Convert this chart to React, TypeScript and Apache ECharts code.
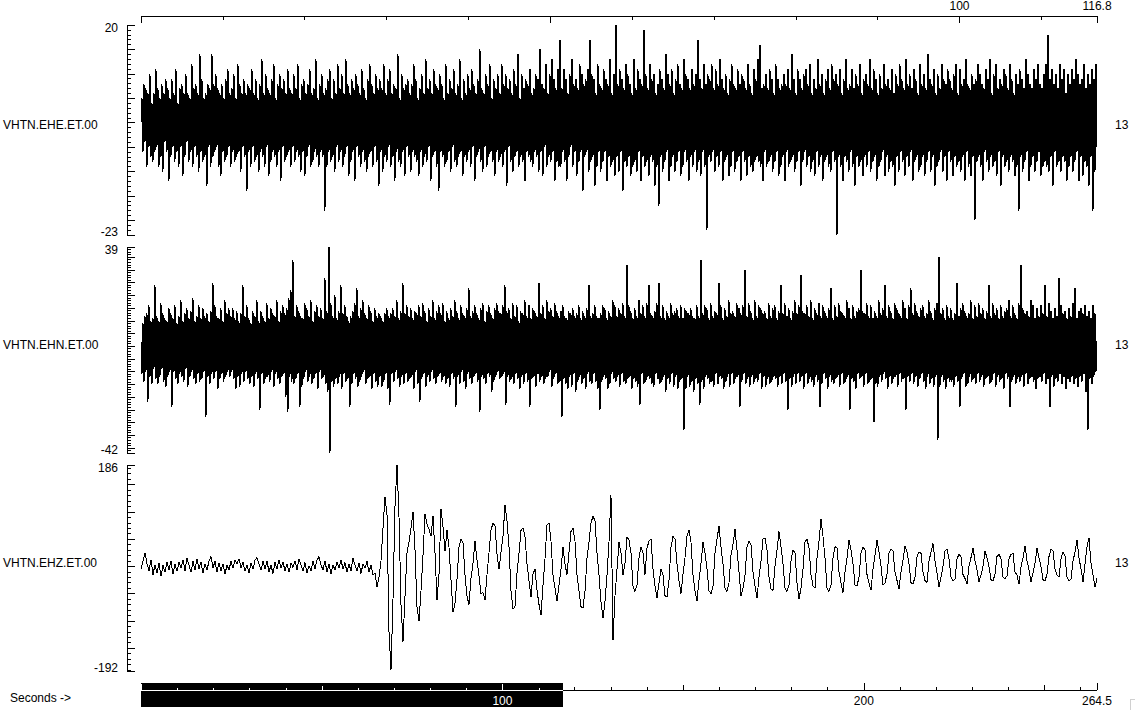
import React, { useEffect, useRef } from "react";
import * as echarts from "echarts";

const channels = ["VHTN.EHE.ET.00", "VHTN.EHN.ET.00", "VHTN.EHZ.ET.00"];
const rightLabels = ["13", "13", "13"];
const yMins = [-23, -42, -192];
const yMaxs = [20, 39, 186];
const yMinorSteps = [1, 1, 10];
const yMajorSteps = [5, 5, 50];

const windowStart = 0;
const windowEnd = 116.8;
const totalEnd = 264.5;
const tickStep = 10;
const topMajorTicks = [0, 50, 100, 116.8];
const topLabels = [100, 116.8];
const bottomMidTicks = [50, 150, 250];
const bottomMajorTicks = [0, 100, 200, 264.5];
const bottomLabels = [100, 200, 264.5];

// EHE, one value per screen column of the displayed window
const eheValues = [
  0, 5, -6, 8, -4, 7, -9, 6, -5, 10, -7, 4, -8, 6, -6, 11, -5, 7, -9, 5, -7, 8, -10, 6, -4, 9, -6, 7, -12, 5,
  -7, 9, -5, 6, -8, 11, -6, 4, -9, 7, -5, 8, -11, 6, -7, 10, -4, 6, -8, 5, -6, 12, -9, 7, -5, 8, -7, 6, -10, 14,
  -6, 9, -8, 5, -7, 6, -13, 8, -5, 7, -9, 14, -7, 8, -6, 10, -5, 7, -9, 6, -11, 8, -6, 5, -8, 9, -7, 11, -5,
  6, -9, 7, -6, 10, -8, 5, -7, 12, -6, 8, -10, 6, -5, 9, -7, 6, -14, 8, -6, 7, -9, 11, -5, 6, -8, 9, -7, 5, -10,
  8, -6, 13, -7, 6, -9, 10, -5, 7, -11, 6, -8, 9, -6, 12, -7, 5, -9, 8, -6, 10, -12, 7, -5, 9, -8, 6, -7, 11, -6,
  7, -9, 6, -5, 10, -8, 7, -6, 12, -7, 5, -10, 8, -6, 9, -11, 6, -7, 8, -5, 11, -9, 6, -8, 7, -6, 13, -7, 5, -9,
  8, -6, 10, -7, 6, -18, 7, -9, 9, -6, 11, -8, 5, -7, 9, -10, 6, -5, 12, -8, 7, -6, 10, -9, 6, -7, 13, -5, 8, -11,
  6, -8, 9, -6, 7, -12, 10, -5, 8, -7, 6, -9, 11, -6, 7, -8, 5, -10, 9, -7, 12, -6, 8, -9, 6, -5, 10, -8, 7, -13,
  9, -6, 7, -10, 12, -7, 6, -8, 9, -5, 11, -9, 6, -7, 8, -12, 7, -6, 14, -8, 5, -9, 10, -6, 7, -11, 8, -5, 9, -7,
  6, -10, 8, -6, 12, -7, 9, -8, 5, -11, 7, -6, 10, -9, 6, -7, 13, -8, 7, -5, 9, -12, 6, -7, 11, -6, 8, -9, 7, -14,
  10, -6, 8, -7, 5, -9, 12, -8, 6, -6, 9, -10, 7, -5, 11, -8, 6, -9, 8, -7, 13, -6, 5, -11, 9, -7, 6, -8, 10, -6,
  7, -9, 11, -5, 8, -12, 6, -7, 9, -6, 15, -8, 7, -10, 6, -5, 10, -9, 8, -7, 12, -6, 5, -8, 9, -11, 7, -6, 10, -8,
  6, -7, 12, -9, 8, -6, 10, -13, 7, -5, 9, -8, 6, -10, 11, -7, 8, -6, 14, -9, 5, -7, 10, -8, 7, -12, 9, -6, 8, -7,
  11, -8, 6, -9, 7, -6, 10, -7, 9, -10, 15, -6, 8, -11, 7, -5, 12, -9, 6, -7, 10, -8, 13, -6, 9, -12, 7, -8, 11, -9, 17,
  -9, 7, -6, 11, -8, 9, -12, 6, -7, 10, -5, 13, -9, 8, -6, 9, -11, 7, -8, 12, -6, 10, -14, 8, -7, 9, -6, 11, -10, 17,
  -8, 10, -7, 9, -13, 6, -9, 12, -6, 8, -10, 7, -8, 11, -6, 9, -12, 8, -7, 13, -9, 6, -8, 10, -11, 20, -7, 8, -10,
  11, -6, 9, -14, 7, -8, 12, -9, 10, -7, 8, -11, 6, -9, 13, -8, 7, -10, 11, -6, 9, -12, 8, -7, 19, -9, 10, -8, 7, -11,
  12, -7, 9, -8, 10, -13, 6, -9, 8, -17, 11, -7, 9, -10, 7, -8, 14, -6, 10, -12, 8, -9, 11, -7, 6, -10, 9, -8, 12, -6,
  8, -11, 7, -9, 13, -6, 10, -8, 9, -12, 7, -7, 11, -9, 8, -6, 10, -10, 17, -8, 9, -11, 7, -6, 12, -9, 8, -22, 10, -7,
  9, -8, 12, -6, 7, -10, 11, -7, 8, -9, 13, -6, 9, -12, 7, -8, 10, -7, 6, -11, 9, -9, 12, -6, 8, -10, 7, -8, 11, -7,
  8, -12, 10, -6, 9, -8, 7, -11, 12, -7, 8, -9, 6, -10, 11, -8, 9, -7, 13, -8, 16, -9, 7, -12, 8, -6, 10, -9, 7, -8, 11,
  -7, 9, -10, 6, -8, 12, -6, 9, -11, 7, -9, 8, -7, 10, -12, 8, -6, 11, -9, 7, -8, 14, -7, 9, -10, 6, -8, 11, -6,
  9, -13, 7, -8, 10, -6, 11, -9, 8, -7, 12, -10, 6, -8, 9, -11, 7, -6, 13, -9, 8, -7, 10, -12, 6, -8, 9, -7, 11, -9,
  7, -10, 12, -6, 9, -8, 10, -23, 8, -7, 11, -9, 6, -12, 9, -7, 13, -8, 7, -10, 8, -6, 11, -9, 7, -13, 10, -7, 8, -9,
  12, -8, 6, -11, 9, -7, 10, -9, 8, -6, 13, -10, 7, -8, 11, -7, 9, -12, 6, -9, 10, -8, 7, -6, 12, -11, 8, -7, 9, -10,
  7, -8, 11, -9, 6, -13, 10, -7, 8, -10, 12, -6, 9, -8, 7, -11, 13, -7, 8, -9, 10, -6, 7, -12, 11, -8, 9, -7, 6, -10,
  12, -9, 8, -7, 10, -11, 7, -8, 14, -6, 9, -10, 8, -7, 11, -13, 6, -9, 10, -8, 7, -6, 12, -10, 9, -7, 8, -12, 11, -6,
  9, -8, 7, -11, 10, -7, 12, -9, 6, -8, 11, -10, 8, -7, 9, -12, 13, -6, 8, -9, 7, -11, 10, -7, 8, -20, 9, -8, 12, -7,
  10, -9, 8, -12, 7, -6, 11, -8, 9, -10, 13, -7, 6, -9, 10, -8, 12, -11, 7, -6, 9, -13, 8, -7, 11, -9, 10, -8, 7, -10,
  12, -7, 9, -8, 6, -11, 10, -9, 8, -18, 11, -7, 9, -10, 7, -8, 13, -6, 10, -12, 8, -9, 7, -7, 11, -10, 9, -8, 12, -6,
  8, -11, 7, -9, 10, -8, 12, -9, 18, -10, 9, -7, 11, -13, 8, -6, 10, -9, 7, -8, 12, -10, 9, -7, 11, -8, 6, -12, 10, -9, 8,
  -7, 11, -10, 9, -8, 13, -6, 10, -12, 8, -7, 9, -11, 12, -8, 7, -9, 10, -13, 8, -7, 11, -18, 9, -10, 12, -5,
];

// EHN, one value per screen column of the displayed window
const ehnValues = [
  2, -11, 9, -14, 12, -10, 13, -22, 16, -12, 10, -15, 11, -9, 24, -13, 12, -15, 10, -12, 17, -9, 13, -14, 11, -16, 10, -12, 15, -10,
  13, -24, 11, -10, 16, -13, 9, -15, 12, -11, 18, -12, 10, -14, 13, -9, 15, -16, 11, -12, 14, -10, 19, -13, 10, -15, 12, -11, 16, -14,
  11, -13, 15, -10, 12, -28, 13, -12, 10, -15, 14, -11, 25, -13, 16, -10, 12, -17, 11, -13, 15, -11, 10, -14, 18, -12, 13, -10, 15, -12,
  12, -10, 15, -13, 11, -17, 14, -12, 10, -16, 13, -11, 24, -14, 12, -10, 16, -13, 11, -15, 9, -12, 14, -16, 12, -11, 18, -13, 10, -25,
  14, -11, 12, -15, 10, -13, 17, -12, 11, -14, 15, -10, 13, -16, 12, -11, 18, -13, 10, -15, 14, -12, 16, -11, 13, -20, 15, -26, 19, -12,
  22, -14, 34, -15, 12, -13, 16, -11, 14, -24, 12, -16, 11, -13, 17, -10, 15, -14, 12, -12, 18, -15, 10, -13, 14, -11, 16, -17, 12, -10,
  15, -13, 11, -12, 27, -15, 14, -18, 39, -42, 17, -14, 12, -16, 20, -13, 11, -15, 14, -12, 24, -17, 13, -11, 16, -14, 12, -13, 10, -24,
  12, -15, 14, -11, 17, -13, 23, -16, 12, -14, 15, -12, 18, -10, 13, -15, 11, -13, 16, -12, 14, -17, 10, -11, 15, -14, 12, -16, 13, -12,
  12, -16, 10, -14, 13, -11, 15, -17, 12, -23, 13, -11, 15, -14, 12, -10, 18, -13, 11, -16, 14, -12, 25, -15, 13, -11, 16, -14, 12, -13,
  15, -12, 11, -17, 14, -10, 13, -15, 16, -22, 12, -13, 17, -11, 14, -16, 10, -12, 15, -14, 12, -10, 18, -13, 11, -15, 14, -12, 16, -11,
  13, -14, 17, -12, 10, -15, 14, -13, 11, -16, 15, -11, 12, -13, 18, -24, 14, -12, 11, -15, 16, -10, 13, -14, 12, -17, 15, -11, 23, -13,
  12, -15, 14, -12, 16, -11, 13, -14, 11, -26, 15, -12, 17, -13, 10, -15, 14, -11, 16, -12, 13, -18, 11, -14, 15, -12, 17, -10, 14, -13,
  13, -12, 16, -11, 24, -23, 14, -12, 15, -14, 11, -13, 17, -15, 12, -11, 16, -13, 10, -17, 14, -12, 13, -15, 18, -11, 12, -14, 16, -24,
  11, -13, 15, -12, 14, -16, 12, -11, 25, -14, 13, -12, 16, -15, 11, -13, 18, -12, 14, -10, 15, -16, 12, -13, 17, -11, 14, -15, 12, -14,
  14, -28, 16, -13, 12, -15, 11, -17, 14, -12, 13, -16, 15, -11, 12, -18, 13, -14, 16, -12, 11, -15, 14, -13, 12, -17, 15, -11, 24, -14,
  12, -15, 13, -11, 16, -14, 12, -17, 11, -25, 13, -14, 16, -12, 15, -13, 11, -17, 14, -15, 12, -11, 18, -13, 16, -14, 12, -12, 15, -16,
  13, -11, 17, -14, 12, -15, 32, -13, 16, -12, 14, -17, 11, -13, 15, -14, 12, -16, 18, -23, 13, -11, 16, -15, 12, -14, 17, -12, 24, -13,
  13, -15, 12, -16, 14, -11, 17, -13, 25, -15, 12, -14, 16, -12, 11, -18, 14, -13, 12, -15, 17, -11, 13, -16, 14, -12, 15, -17, 12, -14,
  16, -13, 11, -33, 15, -17, 14, -12, 13, -16, 15, -14, 12, -18, 11, -13, 16, -15, 12, -23, 34, -14, 13, -17, 16, -12, 15, -13, 11, -15,
  17, -14, 12, -16, 14, -11, 13, -15, 25, -12, 16, -13, 11, -17, 15, -14, 12, -12, 18, -16, 13, -11, 14, -15, 12, -13, 17, -12, 15, -24,
  13, -14, 16, -11, 30, -15, 12, -13, 17, -16, 14, -12, 11, -15, 18, -13, 12, -14, 16, -11, 15, -17, 13, -12, 14, -16, 11, -13, 17, -15,
  12, -14, 15, -12, 16, -13, 11, -16, 14, -12, 24, -15, 13, -11, 17, -14, 12, -25, 15, -13, 11, -16, 14, -12, 18, -15, 13, -11, 16, -14,
  28, -12, 14, -17, 13, -11, 16, -15, 12, -13, 18, -14, 11, -16, 15, -12, 13, -14, 17, -24, 12, -15, 16, -11, 14, -13, 12, -17, 15, -12,
  23, -14, 11, -15, 16, -13, 12, -12, 17, -16, 14, -11, 13, -15, 12, -14, 18, -12, 15, -25, 11, -13, 16, -14, 12, -17, 14, -11, 15, -13,
  30, -12, 14, -16, 13, -11, 17, -15, 12, -14, 16, -13, 11, -30, 14, -15, 12, -16, 18, -12, 13, -14, 15, -11, 24, -13, 12, -17, 16, -12,
  14, -15, 11, -13, 17, -12, 15, -16, 13, -11, 12, -14, 18, -13, 15, -25, 11, -12, 16, -14, 23, -11, 13, -15, 17, -12, 14, -16, 12, -13,
  15, -11, 16, -14, 12, -17, 13, -12, 18, -15, 14, -13, 11, -16, 15, -12, 17, -37, 35, -16, 13, -12, 15, -14, 11, -17, 16, -13, 12, -14,
  15, -14, 11, -16, 13, -12, 25, -14, 12, -24, 15, -13, 17, -11, 14, -16, 12, -15, 13, -12, 18, -14, 11, -13, 16, -15, 12, -11, 17, -14,
  13, -12, 15, -16, 11, -13, 14, -12, 24, -15, 12, -14, 17, -11, 13, -16, 15, -12, 11, -14, 16, -13, 12, -17, 14, -11, 15, -13, 18, -24,
  12, -14, 16, -12, 13, -15, 11, -13, 17, -14, 32, -12, 15, -16, 13, -11, 14, -15, 12, -13, 18, -12, 16, -14, 11, -17, 15, -13, 12, -12,
  16, -14, 13, -11, 24, -15, 12, -13, 17, -24, 14, -12, 11, -16, 15, -13, 12, -14, 27, -11, 16, -15, 13, -12, 14, -17, 11, -13, 15, -14,
  12, -12, 17, -15, 23, -13, 11, -16, 14, -12, 15, -14, 13, -11, 16, -18, 12, -33, 14, -13, 11, -15, 16, -12, 13, -10, 2,
];

// EHZ, one value per two screen columns of the displayed window
const ehzValues = [
  -5, 10, 25, 5, -8, 12, -15, 3, -12, 6, -18, 2, -10, 8, -6, 10, -14, 4, -9, 7,
  -3, 12, -8, 15, 2, -11, 9, -6, 13, -4, 8, -12, 5, -7, 10, 18, -2, 9, -10, 6,
  -8, 4, -14, 2, -6, 9, -3, 12, 5, 14, -2, 8, -9, 3, -12, 6, -5, 11, 16, 4,
  -7, 9, -4, 10, -10, 2, -13, 7, -5, 12, -3, 8, -8, 4, -11, 6, -2, 10, -6, 13,
  3, -9, 7, -12, 1, -8, 9, -4, 11, 18, 2, -6, 10, -10, 5, -14, 3, -7, 8, -3,
  12, -5, 7, -11, 4, -8, 15, 2, -9, 6, -13, 5, -3, 9, -10, 2, -16, -12, -38, -20,
  10, 70, 128, 95, -120, -190, -60, 110, 186, 90, -70, -138, -55, 25, 45, 70, 100, 30, -75, -100,
  -45, 20, 96, 78, 68, 55, 92, 25, -62, -15, 105, 72, 28, 66, 35, -25, -84, -68, -24, 35,
  50, 44, -15, -55, -70, -22, 5, 46, 12, -18, -50, -48, -62, -15, 25, 66, 80, 74, 22, -5,
  26, 55, 112, 84, 36, -45, -78, -74, -12, 24, 66, 70, 55, 4, -26, -56, -14, -5, -44, -70,
  -89, -34, 14, 76, 80, 46, -16, -40, -64, -34, -6, 35, 4, -15, 26, 64, 70, 46, -15, -45,
  -74, -76, -46, 15, 44, 80, 92, 84, 24, -15, -66, -95, -64, -16, 45, 130, -135, -54, -6, 45,
  24, -16, 6, 54, 48, 25, -36, -46, -34, 15, 36, 25, -15, 34, 46, 50, -5, -36, -58, -30,
  -5, -16, -54, -56, -25, 35, 55, 50, 4, -26, -50, -15, 16, 55, 66, 44, -15, -46, -64, -25,
  5, 44, 25, -5, -45, -50, -36, 25, 50, 74, 35, 5, -40, -46, -30, 20, 40, 68, 30, -10,
  -54, -40, -16, 35, 46, 40, -10, -36, -58, -20, 10, 50, 52, 30, -20, -42, -44, 0, 30, 64,
  36, 5, -40, -46, -34, 10, 30, 25, -30, -60, -40, -5, 45, 50, 34, -15, -36, -40, 15, 46,
  87, 55, 15, -40, -46, -34, 15, 36, 34, -10, -30, -48, -10, 16, 48, 30, 5, -34, -36, -20,
  24, 36, 30, -15, -30, -44, -5, 20, 48, 26, 0, -34, -30, -15, 24, 32, 28, -10, -26, -42,
  -10, 12, 38, 26, 5, -30, -32, -20, 18, 26, 24, -10, -26, -30, 10, 26, 42, 10, -12, -38,
  -20, 0, 28, 32, 14, -20, -26, -24, 14, 22, 18, -15, -22, -33, 0, 16, 34, 10, -6, -28,
  -16, 0, 28, 16, -1, -24, -27, -14, 18, 22, 14, -20, -22, -18, 14, 22, 24, -10, -16, -33,
  -1, 16, 38, 10, -6, -28, -12, 6, 33, 16, -1, -24, -27, -14, 18, 32, 28, -5, -16, -20,
  14, 26, 20, -20, -26, -24, 10, 26, 48, 16, -5, -28, 4, 36, 52, 6, -16, -38, -22,
];

const traces = [eheValues, ehnValues, ehzValues];
const traceWidths = [1, 1, 1];

const FONT = "Liberation Sans, Arial, sans-serif";
const TEXT = { fontFamily: FONT, fontSize: 12, color: "#000" };
const BLACK = { color: "#000", width: 1 };

const gridLeft = 141;
const gridRight = 38;
const panelTops = [25, 247, 465];
const panelHeights = [210, 206, 206];

function tickRange(min: number, max: number, step: number): number[] {
  const out: number[] = [min];
  const start = Math.ceil(min / step) * step;
  for (let k = 0; start + k * step <= max + 1e-9; k++) {
    const v = Math.round((start + k * step) * 100) / 100;
    if (v !== min && v !== max) out.push(v);
  }
  out.push(max);
  return out;
}

export default function App() {
  const ref = useRef<HTMLDivElement>(null);

  useEffect(() => {
    if (!ref.current) return;
    const chart = echarts.init(ref.current, null, { renderer: "svg" });

    const gridBase = { left: gridLeft, right: gridRight, containLabel: false, outerBoundsMode: "none" };
    const grids: any[] = panelTops.map((t, g) => ({ ...gridBase, top: t, height: panelHeights[g] }));
    grids.push({ ...gridBase, top: 683, height: 7 });

    const xAxes: any[] = [];
    traces.forEach((vals, g) => {
      xAxes.push({ type: "value", gridIndex: g, min: 0, max: vals.length - 1, show: false });
    });
    xAxes.push({
      type: "value",
      gridIndex: 0,
      position: "top",
      offset: 9,
      min: windowStart,
      max: windowEnd,
      axisLine: { show: true, onZero: false, lineStyle: BLACK },
      axisTick: { show: true, inside: true, length: 4, lineStyle: BLACK, customValues: tickRange(windowStart, windowEnd, tickStep) },
      axisLabel: { show: false },
      splitLine: { show: false },
    });
    xAxes.push({
      type: "value",
      gridIndex: 0,
      position: "top",
      offset: 9,
      min: windowStart,
      max: windowEnd,
      axisLine: { show: false, onZero: false },
      axisTick: { show: true, inside: true, length: 7, lineStyle: BLACK, customValues: topMajorTicks },
      axisLabel: { show: true, ...TEXT, margin: 4, customValues: topLabels },
      splitLine: { show: false },
    });
    const bottomBase = {
      type: "value",
      gridIndex: 3,
      position: "bottom",
      min: 0,
      max: totalEnd,
      splitLine: { show: false },
    };
    const bottomMinorIdx = xAxes.length;
    xAxes.push({
      ...bottomBase,
      axisLine: { show: true, onZero: false, lineStyle: BLACK },
      axisTick: { show: true, inside: true, length: 3, lineStyle: BLACK, customValues: tickRange(0, totalEnd, tickStep) },
      axisLabel: { show: false },
    });
    xAxes.push({
      ...bottomBase,
      axisLine: { show: false, onZero: false },
      axisTick: { show: true, inside: true, length: 5, lineStyle: BLACK, customValues: bottomMidTicks },
      axisLabel: { show: false },
    });
    xAxes.push({
      ...bottomBase,
      axisLine: { show: false, onZero: false },
      axisTick: { show: true, inside: true, length: 7, lineStyle: BLACK, customValues: bottomMajorTicks },
      axisLabel: { show: false },
    });
    xAxes.push({
      ...bottomBase,
      z: 10,
      axisLine: { show: false, onZero: false },
      axisTick: { show: false },
      axisLabel: {
        show: true,
        ...TEXT,
        margin: 5,
        customValues: bottomLabels,
        color: (v: any) => (Number(v) <= windowEnd ? "#fff" : "#000"),
      },
    });

    const nameStyle = { ...TEXT, align: "left", verticalAlign: "bottom", lineHeight: 10 };
    const yAxes: any[] = [];
    const seriesY: number[] = [];
    traces.forEach((_, g) => {
      const min = yMins[g];
      const max = yMaxs[g];
      seriesY.push(yAxes.length);
      yAxes.push({
        type: "value",
        gridIndex: g,
        position: "left",
        offset: 14,
        min,
        max,
        axisLine: { show: true, onZero: false, lineStyle: BLACK },
        axisTick: { show: true, inside: true, length: 4, lineStyle: BLACK, customValues: tickRange(min, max, yMinorSteps[g]) },
        axisLabel: {
          show: true,
          margin: 9,
          customValues: [min, max],
          formatter: (v: number) => (v === max ? `{t|${v}}` : `{b|${v}}`),
          rich: {
            t: { ...TEXT, padding: [5, 0, 0, 0] },
            b: { ...TEXT, padding: [0, 0, 7, 0] },
          },
        },
        splitLine: { show: false },
        name: channels[g],
        nameLocation: "middle",
        nameRotate: 0,
        nameGap: 124,
        nameMoveOverlap: false,
        nameTextStyle: nameStyle,
      });
      yAxes.push({
        type: "value",
        gridIndex: g,
        position: "left",
        offset: 14,
        min,
        max,
        axisLine: { show: false, onZero: false },
        axisTick: { show: true, inside: true, length: 8, lineStyle: BLACK, customValues: tickRange(min, max, yMajorSteps[g]) },
        axisLabel: { show: false },
        splitLine: { show: false },
      });
      yAxes.push({
        type: "value",
        gridIndex: g,
        position: "right",
        min,
        max,
        axisLine: { show: false, onZero: false },
        axisTick: { show: false },
        axisLabel: { show: false },
        splitLine: { show: false },
        name: rightLabels[g],
        nameLocation: "middle",
        nameRotate: 0,
        nameGap: 18,
        nameMoveOverlap: false,
        nameTextStyle: nameStyle,
      });
    });
    const bottomY = yAxes.length;
    yAxes.push({ type: "value", gridIndex: 3, min: 0, max: 1, show: false });

    const series: any[] = traces.map((vals, g) => ({
      type: "line",
      xAxisIndex: g,
      yAxisIndex: seriesY[g],
      data: vals.map((v, i) => [i, v]),
      symbol: "none",
      showSymbol: false,
      clip: false,
      silent: true,
      lineStyle: { color: "#000", width: traceWidths[g] },
    }));

    const bottomTickValues = tickRange(0, totalEnd, tickStep);
    series.push({
      type: "custom",
      xAxisIndex: bottomMinorIdx,
      yAxisIndex: bottomY,
      silent: true,
      clip: false,
      z: 3,
      data: [[windowStart, windowEnd]],
      renderItem: (params: any, api: any) => {
        const cs = params.coordSys;
        const x0 = api.coord([api.value(0), 0])[0];
        const x1 = api.coord([api.value(1), 0])[0];
        const axisY = Math.round(cs.y + cs.height) + 0.5;
        const children: any[] = [
          { type: "rect", shape: { x: x0, y: cs.y, width: x1 - x0, height: 24 }, style: { fill: "#000" } },
          { type: "line", shape: { x1: x0, y1: axisY, x2: x1, y2: axisY }, style: { stroke: "#fff", lineWidth: 1 } },
        ];
        bottomTickValues
          .filter((v) => v <= api.value(1))
          .forEach((v) => {
            const len = bottomMajorTicks.includes(v) ? 7 : bottomMidTicks.includes(v) ? 5 : 3;
            const x = Math.round(api.coord([v, 0])[0]) + 0.5;
            children.push({
              type: "line",
              shape: { x1: x, y1: axisY, x2: x, y2: axisY - len },
              style: { stroke: "#fff", lineWidth: 1 },
            });
          });
        return { type: "group", children };
      },
    });

    chart.setOption({
      animation: false,
      backgroundColor: "#fff",
      textStyle: { fontFamily: FONT },
      grid: grids,
      xAxis: xAxes,
      yAxis: yAxes,
      series,
      graphic: [
        { type: "text", left: 10, top: 692, style: { text: "Seconds ->", ...TEXT, fill: "#000", font: `12px ${FONT}` } },
        { type: "polyline", shape: { points: [[1130.5, 710], [1130.5, 699.5], [1135, 699.5]] }, style: { stroke: "#d0d0d0", fill: null, lineWidth: 1 } },
      ],
    });

    return () => chart.dispose();
  }, []);

  return (
    <div
      ref={ref}
      style={{
        position: "fixed",
        left: 0,
        top: 0,
        width: 1135,
        height: 710,
        background: "#fff",
        shapeRendering: "crispEdges",
      } as any}
    />
  );
}
